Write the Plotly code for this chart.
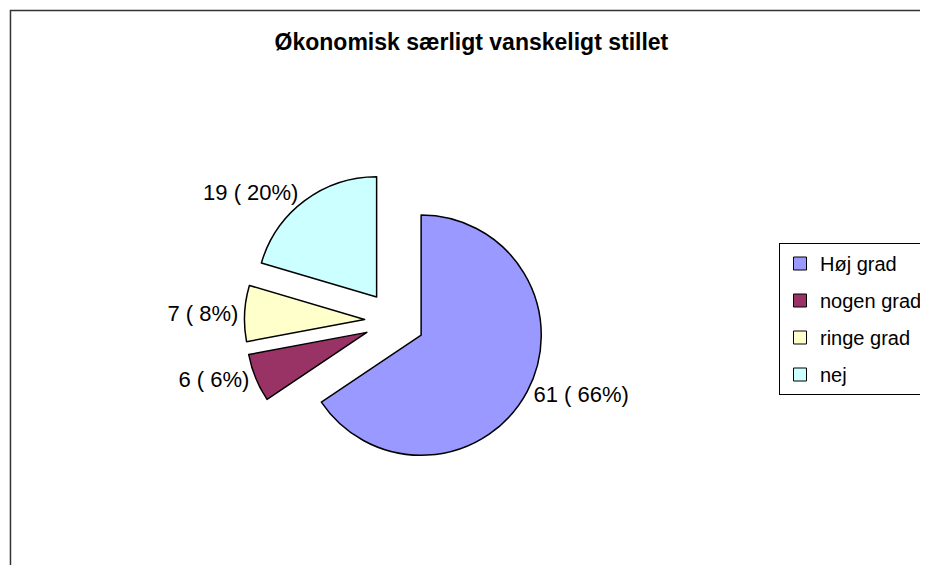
import plotly.graph_objects as go

labels = ["Høj grad", "nogen grad", "ringe grad", "nej"]
values = [61, 6, 7, 19]
colors = ["#9999FF", "#993366", "#FFFFCC", "#CCFFFF"]
title_text = "Økonomisk særligt vanskeligt stillet"

# the page body adds an 8px margin, so the figure is 8px smaller and
# all pixel positions below are relative to the figure origin
OFF = 8
W, H = 928 - OFF, 565 - OFF
cx, cy = 398 - OFF, 321 - OFF   # pie centre in figure pixels
half = 151.5                    # half size of the pie domain
FONT = "Liberation Sans, Arial, sans-serif"

fig = go.Figure()
fig.add_trace(go.Pie(
    labels=labels,
    values=values,
    sort=False,
    direction="clockwise",
    rotation=0,
    pull=[0.25] * len(values),
    marker=dict(colors=colors, line=dict(color="black", width=1.5)),
    texttemplate="%{value} ( %{percent:.0%})",
    textposition="outside",
    textfont=dict(family=FONT, size=22, color="black"),
    hoverinfo="label+value+percent",
    domain=dict(x=[(cx - half) / W, (cx + half) / W],
                y=[(H - cy - half) / H, (H - cy + half) / H]),
    showlegend=False,
))

# legend entries (one group each so that the row spacing matches)
for lab, col in zip(labels, colors):
    fig.add_trace(go.Scatter(
        x=[None], y=[None], mode="markers", name=lab, legendgroup=lab,
        marker=dict(symbol="square", size=13, color=col,
                    line=dict(color="black", width=1)),
        hoverinfo="skip",
    ))

fig.update_layout(
    width=W, height=H,
    margin=dict(l=0, r=0, t=0, b=0),
    paper_bgcolor="white",
    plot_bgcolor="white",
    font=dict(family=FONT, size=20, color="black"),
    xaxis=dict(visible=False),
    yaxis=dict(visible=False),
    title=dict(text="<b>" + title_text + "</b>", x=(475.5 - OFF) / W,
               xanchor="center", xref="paper", y=1 - (42 - OFF) / H,
               yanchor="middle", yref="paper",
               font=dict(family=FONT, size=23, color="black")),
    legend=dict(x=(786 - OFF) / W, xanchor="left", y=1 - (243 - OFF) / H,
                yanchor="top", bordercolor="black", borderwidth=1,
                bgcolor="white", font=dict(family=FONT, size=20, color="black"),
                traceorder="grouped", tracegroupgap=8),
    shapes=[dict(type="rect", xref="paper", yref="paper",
                 x0=(10.5 - OFF) / W, x1=1.2, y0=-0.2, y1=1 - (10.5 - OFF) / H,
                 line=dict(color="#333333", width=1.5), layer="below")],
)

fig.write_html("out.html")
